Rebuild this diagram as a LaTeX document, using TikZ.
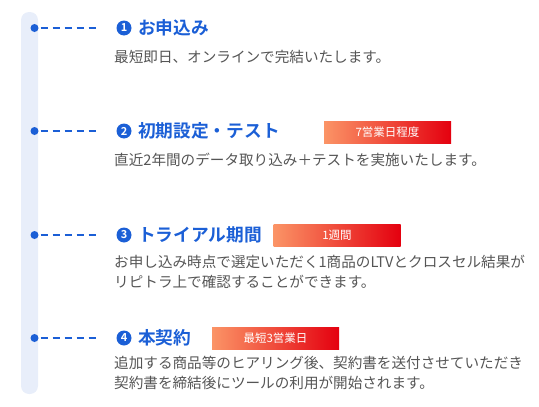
\documentclass[tikz,border=0pt]{standalone}
\usepackage{fontspec}
\setmainfont{Noto Sans CJK JP}[BoldFont={Noto Sans CJK JP Bold}]
\usepackage{tikz}
\usetikzlibrary{calc}

\definecolor{stepblue}{HTML}{1B5FD6}
\definecolor{bodygray}{HTML}{555555}
\definecolor{barblue}{HTML}{E8EEFA}
\definecolor{tagorange}{HTML}{FB9466}
\definecolor{tagred}{HTML}{E4000F}

\begin{document}
\begin{tikzpicture}[x=1pt,y=-1pt,
  stepdot/.style={circle, fill=stepblue, inner sep=0pt, minimum size=8pt},
  stepnum/.style={circle, fill=stepblue, text=white, inner sep=0pt, minimum size=15pt, font=\bfseries\fontsize{11}{11}\selectfont},
  stephead/.style={anchor=west, text=stepblue, inner sep=0pt, font=\bfseries\fontsize{17.7}{18}\selectfont},
  stepbody/.style={anchor=north west, text=bodygray, inner sep=0pt, align=left, font=\fontsize{14.6}{20}\selectfont},
  steptag/.style={minimum width=127pt, minimum height=22pt, inner sep=0pt, left color=tagorange, right color=tagred, text=white, font=\fontsize{11.5}{11.5}\selectfont},
  steplink/.style={draw=stepblue, line width=1.8pt, dash pattern=on 7pt off 5pt, shorten <=2pt, shorten >=16pt}]
  \useasboundingbox (0,0) rectangle (539,407);
  % Timeline bar
  \fill[barblue, rounded corners=8pt] (21,12) rectangle (38,394);
  % Nodes
  \node[stepdot] (dot1) at (34.5,28) {};
  \node[stepnum] (num1) at (124,28) {1};
  \node[stephead] (head1) at (138,28) {お申込み};
  \node[stepbody] (body1) at (114,50) {最短即日、オンラインで完結いたします。};

  \node[stepdot] (dot2) at (34.5,131) {};
  \node[stepnum] (num2) at (124,131) {2};
  \node[stephead] (head2) at (138,131) {初期設定・テスト};
  \node[steptag] (tag2) at (387.5,132) {7営業日程度};
  \node[stepbody] (body2) at (114,153) {直近2年間のデータ取り込み＋テストを実施いたします。};

  \node[stepdot] (dot3) at (34.5,235) {};
  \node[stepnum] (num3) at (124,235) {3};
  \node[stephead] (head3) at (138,235) {トライアル期間};
  \node[steptag] (tag3) at (337,235) {1週間};
  \node[stepbody] (body3) at (114,255) {お申し込み時点で選定いただく1商品のLTVとクロスセル結果が\\リピトラ上で確認することができます。};

  \node[stepdot] (dot4) at (34.5,338) {};
  \node[stepnum] (num4) at (124,338) {4};
  \node[stephead] (head4) at (138,338) {本契約};
  \node[steptag] (tag4) at (275.5,338) {最短3営業日};
  \node[stepbody] (body4) at (114,356) {追加する商品等のヒアリング後、契約書を送付させていただき\\契約書を締結後にツールの利用が開始されます。};
  % Edges
  \foreach \i in {1,...,4}
    \draw[steplink] (dot\i) -- (num\i);
\end{tikzpicture}
\end{document}
